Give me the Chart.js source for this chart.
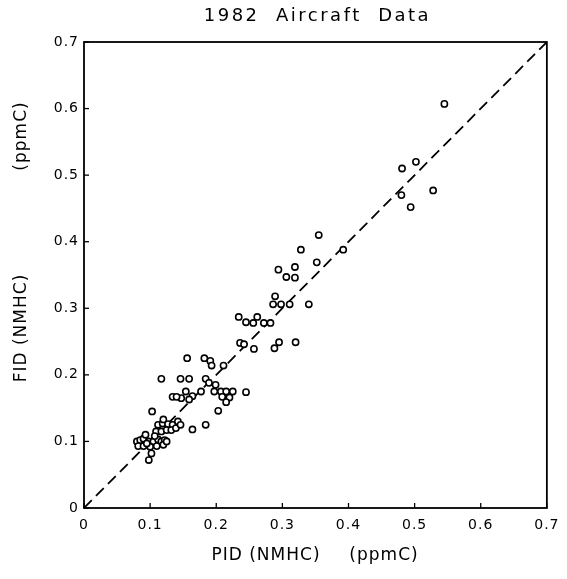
<!DOCTYPE html>
<html>
<head>
<meta charset="utf-8">
<script src="https://cdn.jsdelivr.net/npm/chart.js@4/dist/chart.umd.min.js"></script>
<style>
  html, body { margin: 0; padding: 0; background: #fff; }
  #wrap { width: 567px; height: 579px; }
</style>
</head>
<body>
<div id="wrap"><canvas id="chart"></canvas></div>
<script>
// PID (x) vs FID (y), ppmC
const pidValues = [
    0.545, 0.502, 0.481, 0.528, 0.480, 0.494,
    0.392, 0.355, 0.328, 0.352, 0.319, 0.294, 0.306, 0.319, 0.340,
    0.289, 0.286, 0.298, 0.311,
    0.234, 0.245, 0.256, 0.262, 0.272, 0.282,
    0.236, 0.242, 0.257, 0.288, 0.295, 0.320,
    0.211, 0.156, 0.182, 0.191, 0.193,
    0.117, 0.146, 0.159, 0.184, 0.189, 0.199,
    0.197, 0.207, 0.215, 0.225, 0.245, 0.209, 0.220, 0.215, 0.203, 0.184,
    0.154, 0.177, 0.164, 0.147, 0.159, 0.134, 0.140,
    0.103, 0.164,
    0.112, 0.119, 0.127, 0.134, 0.109, 0.117, 0.125, 0.132, 0.120, 0.142, 0.139, 0.146,
    0.080, 0.085, 0.090, 0.093, 0.098, 0.105, 0.112, 0.117, 0.122,
    0.082, 0.090, 0.100, 0.110, 0.120, 0.125, 0.102, 0.098, 0.107, 0.095
]
const fidValues = [
    0.607, 0.520, 0.510, 0.477, 0.470, 0.452,
    0.388, 0.410, 0.388, 0.369, 0.362, 0.358, 0.347, 0.346, 0.306,
    0.318, 0.306, 0.306, 0.306,
    0.287, 0.279, 0.278, 0.287, 0.278, 0.278,
    0.248, 0.246, 0.239, 0.240, 0.249, 0.249,
    0.214, 0.225, 0.225, 0.221, 0.214,
    0.194, 0.194, 0.194, 0.194, 0.188, 0.185,
    0.175, 0.175, 0.175, 0.175, 0.174, 0.167, 0.166, 0.159, 0.146, 0.125,
    0.175, 0.175, 0.168, 0.165, 0.163, 0.167, 0.167,
    0.145, 0.118,
    0.125, 0.127, 0.126, 0.125, 0.115, 0.115, 0.117, 0.117, 0.133, 0.130, 0.120, 0.125,
    0.100, 0.102, 0.104, 0.110, 0.100, 0.100, 0.103, 0.100, 0.102,
    0.093, 0.093, 0.092, 0.093, 0.095, 0.100, 0.082, 0.072, 0.108, 0.097
]

// 1:1 line
const diagonalX = [0, 0.7]
const diagonalY = [0, 0.7]

const tickValues = [0, 0.1, 0.2, 0.3, 0.4, 0.5, 0.6, 0.7]
const tickLabels = ["0", "0.1", "0.2", "0.3", "0.4", "0.5", "0.6", "0.7"]

const titleText = "1982  Aircraft  Data"
const xTitleParts = ["PID (NMHC)", "(ppmC)"]
const yTitleParts = ["FID (NMHC)", "(ppmC)"]

const FONT = "'DejaVu Sans', sans-serif"

const points = pidValues.map((x, i) => ({ x: x, y: fidValues[i] }))
const diagonal = diagonalX.map((x, i) => ({ x: x, y: diagonalY[i] }))

// frame, inward ticks and titles
const decorations = {
    id: "decorations",
    beforeDraw(chart) {
        chart.ctx.letterSpacing = "1px"
    },
    afterDraw(chart) {
        const ctx = chart.ctx
        const area = chart.chartArea
        const xs = chart.scales.x
        const ys = chart.scales.y
        ctx.save()
        ctx.strokeStyle = "#000"
        ctx.lineWidth = 1.8
        ctx.strokeRect(area.left, area.top, area.right - area.left, area.bottom - area.top)

        ctx.lineWidth = 1.3
        tickValues.forEach(v => {
            const px = xs.getPixelForValue(v)
            ctx.beginPath()
            ctx.moveTo(px, area.bottom)
            ctx.lineTo(px, area.bottom - 5)
            ctx.stroke()
            const py = ys.getPixelForValue(v)
            ctx.beginPath()
            ctx.moveTo(area.left, py)
            ctx.lineTo(area.left + 5, py)
            ctx.stroke()
        })

        ctx.fillStyle = "#000"
        ctx.textAlign = "center"
        ctx.textBaseline = "middle"
        ctx.letterSpacing = "2.5px"
        ctx.font = "18px " + FONT
        ctx.fillText(titleText, (area.left + area.right) / 2 + 2, 16)

        ctx.font = "17px " + FONT
        ctx.letterSpacing = "1px"
        ctx.fillText(xTitleParts[0], 266, 556)
        ctx.fillText(xTitleParts[1], 384, 556)

        ctx.translate(22, 0)
        ctx.rotate(-Math.PI / 2)
        ctx.fillText(yTitleParts[0], -328, 0)
        ctx.fillText(yTitleParts[1], -136, 0)
        ctx.restore()
    }
}

const axisBase = {
    type: "linear",
    min: 0,
    max: 0.7,
    afterBuildTicks: scale => {
        scale.ticks = tickValues.map(v => ({ value: v }))
    },
    grid: { display: true, drawOnChartArea: false, drawTicks: false },
    border: { display: false }
}

new Chart(document.getElementById("chart"), {
    data: {
        datasets: [
            {
                type: "scatter",
                data: points,
                order: 1,
                pointRadius: 3.1,
                pointBorderWidth: 1.6,
                pointBackgroundColor: "#fff",
                pointBorderColor: "#000"
            },
            {
                type: "line",
                data: diagonal,
                order: 2,
                borderColor: "#000",
                borderWidth: 1.8,
                borderDash: [11, 6],
                pointRadius: 0,
                fill: false
            }
        ]
    },
    options: {
        responsive: true,
        maintainAspectRatio: false,
        animation: false,
        layout: { padding: { top: 42, right: 18, left: 0, bottom: 0 } },
        plugins: {
            legend: { display: false },
            tooltip: { enabled: false }
        },
        scales: {
            x: Object.assign({}, axisBase, {
                position: "bottom",
                afterFit: scale => { scale.height = 71 },
                ticks: {
                    padding: 9,
                    color: "#000",
                    font: { family: FONT, size: 14 },
                    maxRotation: 0,
                    callback: (v, i) => tickLabels[i]
                }
            }),
            y: Object.assign({}, axisBase, {
                position: "left",
                afterFit: scale => { scale.width = 84 },
                ticks: {
                    padding: 5,
                    color: "#000",
                    font: { family: FONT, size: 14 },
                    callback: (v, i) => tickLabels[i]
                }
            })
        }
    },
    plugins: [decorations]
})
</script>
</body>
</html>
